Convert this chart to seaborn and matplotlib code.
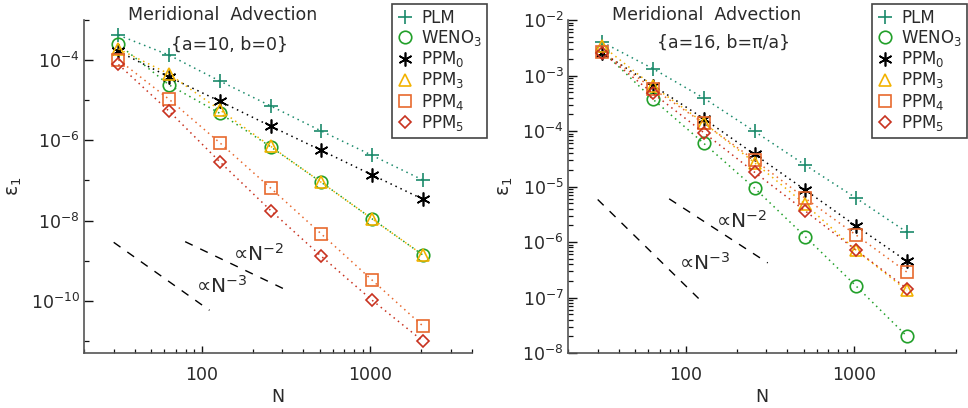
import numpy as np
import pandas as pd
import matplotlib
matplotlib.use("Agg")
import matplotlib.pyplot as plt
import seaborn as sns
from matplotlib.lines import Line2D
from matplotlib import ticker

# grid resolutions
N = [32, 64, 128, 256, 512, 1024, 2048]
schemes = ["PLM", "WENO$_3$", "PPM$_0$", "PPM$_3$", "PPM$_4$", "PPM$_5$"]

# left panel: {a=10, b=0}
left_plm = [4.2e-4, 1.33e-4, 3.0e-5, 7.2e-6, 1.7e-6, 4.2e-7, 1.02e-7]
left_weno3 = [2.47e-4, 2.4e-5, 4.7e-6, 6.9e-7, 8.95e-8, 1.1e-8, 1.38e-9]
left_ppm0 = [1.65e-4, 3.8e-5, 9.4e-6, 2.26e-6, 5.6e-7, 1.37e-7, 3.4e-8]
left_ppm3 = [1.9e-4, 4.5e-5, 5.7e-6, 7.1e-7, 8.9e-8, 1.1e-8, 1.38e-9]
left_ppm4 = [1.02e-4, 1.05e-5, 8.65e-7, 6.45e-8, 4.6e-9, 3.26e-10, 2.34e-11]
left_ppm5 = [7.8e-5, 5.3e-6, 2.9e-7, 1.78e-8, 1.28e-9, 1.03e-10, 9.9e-12]

# right panel: {a=16, b=pi/a}
right_plm = [3.98e-3, 1.32e-3, 3.9e-4, 9.8e-5, 2.42e-5, 6.16e-6, 1.5e-6]
right_weno3 = [2.74e-3, 3.7e-4, 5.96e-5, 9.3e-6, 1.24e-6, 1.6e-7, 2.0e-8]
right_ppm0 = [2.56e-3, 6.6e-4, 1.66e-4, 3.78e-5, 8.6e-6, 1.93e-6, 4.5e-7]
right_ppm3 = [3.4e-3, 6.4e-4, 1.4e-4, 2.67e-5, 4.74e-6, 7.1e-7, 1.34e-7]
right_ppm4 = [2.67e-3, 5.75e-4, 1.37e-4, 2.98e-5, 6.1e-6, 1.33e-6, 2.86e-7]
right_ppm5 = [2.57e-3, 4.74e-4, 9.3e-5, 1.8e-5, 3.6e-6, 7.1e-7, 1.45e-7]

# reference slopes (endpoints)
left_n3_N, left_n3_err = [30, 111], [2.87e-9, 5.8e-11]
left_n2_N, left_n2_err = [79.6, 319], [2.98e-9, 1.83e-10]
right_n3_N, right_n3_err = [30, 119], [5.83e-6, 9.6e-8]
right_n2_N, right_n2_err = [79.6, 306], [6.0e-6, 4.2e-7]

colors = ["#1b8a6b", "#22a02a", "#000000", "#f2b200", "#e8692e", "#c8321f"]
markers = ["+", "o", (6, 2, 0), "^", "s", "D"]
msizes = [10, 9, 10, 9, 9, 6.5]

sns.set_style("ticks")
plt.rcParams["font.family"] = ["DejaVu Sans"]
plt.rcParams["mathtext.fontset"] = "dejavusans"
txt = "#2a2a2a"
fs = 12.5

fig = plt.figure(figsize=(9.68, 4.08), dpi=100)
axL = fig.add_axes([84 / 968, 1 - 353 / 408, 388 / 968, 333 / 408])
axR = fig.add_axes([568 / 968, 1 - 353 / 408, 388 / 968, 333 / 408])


def draw_panel(ax, series, subtitle, ylim, guides, legend_x):
    df = pd.DataFrame({
        "N": N * len(schemes),
        "err": sum(series, []),
        "scheme": np.repeat(schemes, len(N)),
    })
    for s, c, m, ms in zip(schemes, colors, markers, msizes):
        sns.lineplot(data=df[df["scheme"] == s], x="N", y="err", ax=ax,
                     color=c, linestyle=(0, (1, 2.6)), lw=1.1,
                     marker=m, markersize=ms, markerfacecolor="none",
                     markeredgecolor=c, markeredgewidth=1.2, legend=False)
    for gN, gerr in guides:
        ax.plot(gN, gerr, color="black", lw=1, linestyle=(0, (6, 6)))
    ax.set_xscale("log")
    ax.set_yscale("log")
    ax.set_xlim(20, 4000)
    ax.set_ylim(*ylim)
    ax.xaxis.set_major_locator(ticker.FixedLocator([100, 1000]))
    ax.xaxis.set_major_formatter(ticker.FuncFormatter(lambda v, p: f"{int(v)}"))
    ax.xaxis.set_minor_locator(ticker.LogLocator(subs=range(2, 10), numticks=20))
    ax.xaxis.set_minor_formatter(ticker.NullFormatter())
    ax.set_xlabel("N", fontsize=fs, color=txt, labelpad=3)
    ax.set_ylabel("ε$_1$", fontsize=fs + 1, color=txt, labelpad=5)
    ax.tick_params(axis="both", which="both", direction="in", colors="#111111",
                   labelcolor=txt, labelsize=fs)
    ax.tick_params(axis="x", which="major", length=5, width=1, pad=9)
    ax.tick_params(axis="x", which="minor", length=3, width=0.9)
    ax.tick_params(axis="y", which="major", length=6.5, width=1, pad=3)
    ax.tick_params(axis="y", which="minor", length=3.5, width=0.9)
    for sp in ["top", "right"]:
        ax.spines[sp].set_visible(False)
    for sp in ["left", "bottom"]:
        ax.spines[sp].set_color("#555555")
        ax.spines[sp].set_linewidth(1.2)
    ax.text(0.358, 1.015, "Meridional  Advection", transform=ax.transAxes,
            ha="center", va="center", fontsize=fs, color=txt)
    ax.text(subtitle[1], subtitle[2], subtitle[0], transform=ax.transAxes,
            ha="center", va="center", fontsize=fs, color=txt)
    handles = [Line2D([], [], ls="none", marker=m, markersize=ms,
                      markerfacecolor="none", markeredgecolor=c,
                      markeredgewidth=1.2, label=s)
               for s, c, m, ms in zip(schemes, colors, markers, msizes)]
    leg = ax.legend(handles=handles, loc="upper right",
                    bbox_to_anchor=(legend_x, 1 - 4 / 408),
                    bbox_transform=fig.transFigure, fancybox=False,
                    framealpha=1, edgecolor="#444444", fontsize=12,
                    handlelength=1.0, handletextpad=0.45, labelspacing=0.07,
                    borderpad=0.3, borderaxespad=0)
    leg.get_frame().set_linewidth(1.2)
    for t in leg.get_texts():
        t.set_color(txt)


draw_panel(axL, [left_plm, left_weno3, left_ppm0, left_ppm3, left_ppm4, left_ppm5],
           ("{a=10, b=0}", 0.374, 0.925), (5e-12, 1e-3),
           [(left_n3_N, left_n3_err), (left_n2_N, left_n2_err)], 487 / 968)
draw_panel(axR, [right_plm, right_weno3, right_ppm0, right_ppm3, right_ppm4, right_ppm5],
           ("{a=16, b=π/a}", 0.402, 0.931), (1e-8, 1e-2),
           [(right_n3_N, right_n3_err), (right_n2_N, right_n2_err)], 967 / 968)

# left panel: labels every two decades, odd decades as minor ticks
axL.yaxis.set_major_locator(ticker.FixedLocator([1e-10, 1e-8, 1e-6, 1e-4]))
axL.yaxis.set_major_formatter(ticker.LogFormatterMathtext())
axL.yaxis.set_minor_locator(ticker.FixedLocator([1e-11, 1e-9, 1e-7, 1e-5, 1e-3]))
axL.yaxis.set_minor_formatter(ticker.NullFormatter())
# right panel: every decade with sub-decade minor ticks
axR.yaxis.set_major_locator(ticker.LogLocator(numticks=20))
axR.yaxis.set_major_formatter(ticker.LogFormatterMathtext())
axR.yaxis.set_minor_locator(ticker.LogLocator(subs=range(2, 10), numticks=20))
axR.yaxis.set_minor_formatter(ticker.NullFormatter())

gfs = fs + 2
axL.text(0.383, 0.276, "∝N$^{-2}$", transform=axL.transAxes, fontsize=gfs, color=txt)
axL.text(0.288, 0.180, "∝N$^{-3}$", transform=axL.transAxes, fontsize=gfs, color=txt)
axR.text(0.381, 0.376, "∝N$^{-2}$", transform=axR.transAxes, fontsize=gfs, color=txt)
axR.text(0.287, 0.249, "∝N$^{-3}$", transform=axR.transAxes, fontsize=gfs, color=txt)

fig.savefig("out.png", dpi=100)
